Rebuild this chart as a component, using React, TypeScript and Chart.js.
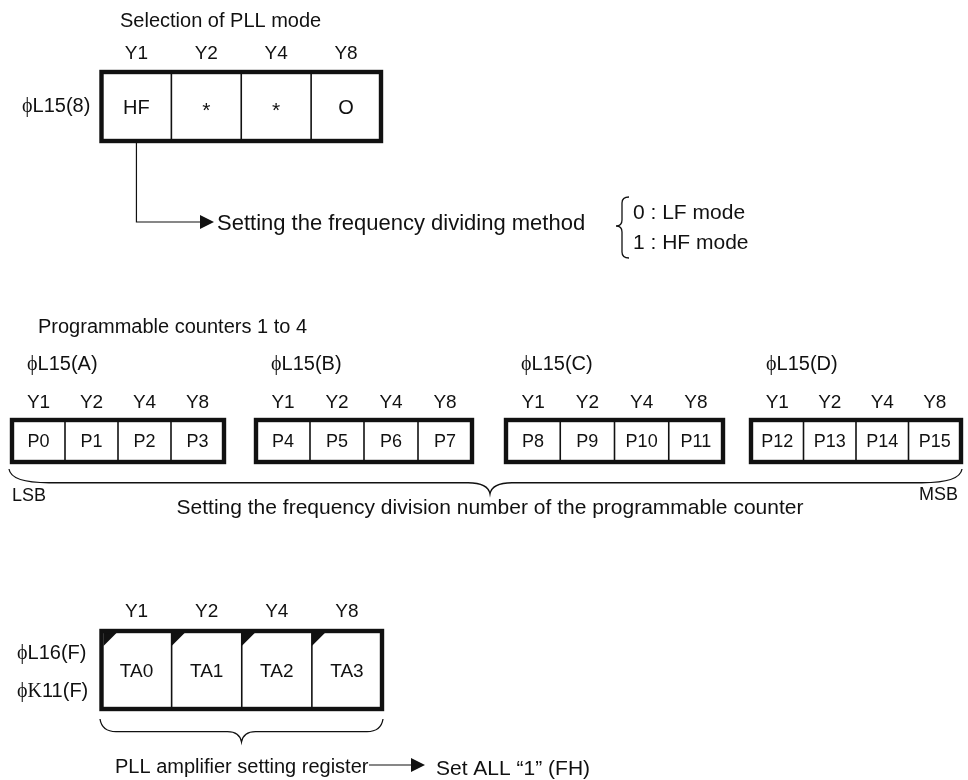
import React, { useEffect, useRef } from 'react';
import { Chart, registerables } from 'chart.js';

Chart.register(...registerables);

// ---------- content ----------
const bitLabels = ['Y1', 'Y2', 'Y4', 'Y8'];

const modeTitle = 'Selection of PLL mode';
const modeRegister = 'ϕL15(8)';
const modeCells = ['HF', '*', '*', 'O'];
const modeArrowText = 'Setting the frequency dividing method';
const modeOptions = ['0 : LF mode', '1 : HF mode'];

const counterTitle = 'Programmable counters 1 to 4';
const counterRegisters = ['ϕL15(A)', 'ϕL15(B)', 'ϕL15(C)', 'ϕL15(D)'];
const counterCells = [
  ['P0', 'P1', 'P2', 'P3'],
  ['P4', 'P5', 'P6', 'P7'],
  ['P8', 'P9', 'P10', 'P11'],
  ['P12', 'P13', 'P14', 'P15'],
];
const counterBraceText = 'Setting the frequency division number of the programmable counter';
const bitOrderLabels = ['LSB', 'MSB'];

const ampRegisters = ['ϕL16(F)', 'ϕΚ11(F)'];
const ampCells = ['TA0', 'TA1', 'TA2', 'TA3'];
const ampBraceText = 'PLL amplifier setting register';
const ampArrowText = 'Set ALL “1” (FH)';

// ---------- styling ----------
const W = 968;
const H = 780;
const INK = '#111111';
const SANS = '"Liberation Sans", Arial, Helvetica, sans-serif';
const SERIF = '"Liberation Serif", "DejaVu Serif", "Times New Roman", serif';

const isGreek = (ch: string) => {
  const c = ch.codePointAt(0) || 0;
  return c >= 0x370 && c <= 0x3ff;
};

const diagramPlugin = {
  id: 'registerDiagram',
  afterDatasetsDraw(chart: any) {
    const ctx: CanvasRenderingContext2D = chart.ctx;
    const sx = chart.scales.x;
    const sy = chart.scales.y;
    const X = (v: number) => sx.getPixelForValue(v);
    const Y = (v: number) => sy.getPixelForValue(v);

    ctx.save();
    ctx.fillStyle = INK;
    ctx.strokeStyle = INK;
    ctx.lineCap = 'butt';
    ctx.lineJoin = 'miter';

    const runsOf = (t: string) => {
      const runs: { s: string; g: boolean }[] = [];
      for (const ch of Array.from(t)) {
        const g = isGreek(ch);
        if (runs.length && runs[runs.length - 1].g === g) runs[runs.length - 1].s += ch;
        else runs.push({ s: ch, g });
      }
      return runs;
    };
    const text = (t: string, x: number, cy: number, size: number, align: 'left' | 'center' | 'right' = 'left', baseK = 0.36) => {
      const runs = runsOf(t);
      const widths = runs.map((r) => {
        ctx.font = `${size}px ${r.g ? SERIF : SANS}`;
        return ctx.measureText(r.s).width;
      });
      const total = widths.reduce((a, b) => a + b, 0);
      let px = X(x);
      if (align === 'center') px -= total / 2;
      else if (align === 'right') px -= total;
      ctx.textAlign = 'left';
      ctx.textBaseline = 'alphabetic';
      runs.forEach((r, i) => {
        ctx.font = `${size}px ${r.g ? SERIF : SANS}`;
        ctx.fillText(r.s, px, Y(cy) + size * baseK);
        px += widths[i];
      });
    };

    const line = (pts: number[][], lw: number) => {
      ctx.lineWidth = lw;
      ctx.beginPath();
      pts.forEach(([a, b], i) => (i ? ctx.lineTo(X(a), Y(b)) : ctx.moveTo(X(a), Y(b))));
      ctx.stroke();
    };

    const arrowHead = (tipX: number, y: number, len: number, half: number) => {
      ctx.beginPath();
      ctx.moveTo(X(tipX), Y(y));
      ctx.lineTo(X(tipX - len), Y(y - half));
      ctx.lineTo(X(tipX - len), Y(y + half));
      ctx.closePath();
      ctx.fill();
    };

    const register = (
      cells: string[],
      x0: number,
      x1: number,
      y0: number,
      y1: number,
      size: number,
      corners: boolean,
    ) => {
      const n = cells.length;
      const w = (x1 - x0) / n;
      for (let i = 1; i < n; i++) line([[x0 + i * w, y0], [x0 + i * w, y1]], 1.6);
      if (corners) {
        for (let i = 0; i < n; i++) {
          const lx = i === 0 ? x0 + 2 : x0 + i * w;
          const ty = y0 + 2;
          const s = 13;
          ctx.beginPath();
          ctx.moveTo(X(lx), Y(ty));
          ctx.lineTo(X(lx + s), Y(ty));
          ctx.lineTo(X(lx), Y(ty + s));
          ctx.closePath();
          ctx.fill();
        }
      }
      ctx.lineWidth = 4.4;
      ctx.strokeRect(X(x0), Y(y0), X(x1) - X(x0), Y(y1) - Y(y0));
      const cy = (y0 + y1) / 2;
      cells.forEach((c, i) => {
        const cx = x0 + (i + 0.5) * w;
        if (c === '*') text(c, cx, cy, size + 1, 'center', 0.5);
        else text(c, cx, cy, size, 'center');
      });
      return { w };
    };

    const bits = (x0: number, x1: number, cy: number, size: number) => {
      const w = (x1 - x0) / bitLabels.length;
      bitLabels.forEach((b, i) => text(b, x0 + (i + 0.5) * w, cy, size, 'center'));
    };

    const hBrace = (x1: number, x2: number, mid: number, y: number, d: number, rEnd: number, rMid: number) => {
      const ym = y + d * 0.55;
      ctx.lineWidth = 1.3;
      ctx.beginPath();
      ctx.moveTo(X(x1), Y(y));
      ctx.quadraticCurveTo(X(x1 + 2), Y(ym), X(x1 + rEnd), Y(ym));
      ctx.lineTo(X(mid - rMid), Y(ym));
      ctx.quadraticCurveTo(X(mid - 2), Y(ym), X(mid), Y(y + d));
      ctx.quadraticCurveTo(X(mid + 2), Y(ym), X(mid + rMid), Y(ym));
      ctx.lineTo(X(x2 - rEnd), Y(ym));
      ctx.quadraticCurveTo(X(x2 - 2), Y(ym), X(x2), Y(y));
      ctx.stroke();
    };

    const vBrace = (xEnd: number, xSpine: number, xTip: number, yTop: number, yMid: number, yBot: number) => {
      const r = 6;
      ctx.lineWidth = 1.3;
      ctx.beginPath();
      ctx.moveTo(X(xEnd), Y(yTop));
      ctx.quadraticCurveTo(X(xSpine), Y(yTop), X(xSpine), Y(yTop + r));
      ctx.lineTo(X(xSpine), Y(yMid - r));
      ctx.quadraticCurveTo(X(xSpine), Y(yMid), X(xTip), Y(yMid));
      ctx.quadraticCurveTo(X(xSpine), Y(yMid), X(xSpine), Y(yMid + r));
      ctx.lineTo(X(xSpine), Y(yBot - r));
      ctx.quadraticCurveTo(X(xSpine), Y(yBot), X(xEnd), Y(yBot));
      ctx.stroke();
    };

    // ===== Section 1: PLL mode =====
    text(modeTitle, 120, 20, 20, 'left');
    const m = { x0: 101.5, x1: 381, y0: 72, y1: 141 };
    bits(m.x0, m.x1, 52, 19);
    text(modeRegister, 22, 105, 20, 'left');
    const mw = register(modeCells, m.x0, m.x1, m.y0, m.y1, 20, false).w;
    const hfX = m.x0 + mw / 2;
    line([[hfX, m.y1 + 2], [hfX, 222], [202, 222]], 1.2);
    arrowHead(214, 222, 14, 7);
    text(modeArrowText, 217, 222, 22, 'left');
    vBrace(629, 622, 616, 197, 226, 258);
    text(modeOptions[0], 633, 211, 21, 'left');
    text(modeOptions[1], 633, 241, 21, 'left');

    // ===== Section 2: programmable counters =====
    text(counterTitle, 38, 326, 20, 'left');
    const cBoxes = [
      [12, 224],
      [256, 472],
      [506, 723],
      [751, 961],
    ];
    counterCells.forEach((cells, k) => {
      const [a, b] = cBoxes[k];
      text(counterRegisters[k], a + 15, 363, 20, 'left');
      bits(a, b, 401, 19);
      register(cells, a, b, 420, 462, 18, false);
    });
    hBrace(9, 962, 490, 469, 25, 40, 22);
    text(bitOrderLabels[0], 12, 495, 18, 'left');
    text(bitOrderLabels[1], 958, 494, 18, 'right');
    text(counterBraceText, 490, 506, 21, 'center');

    // ===== Section 3: PLL amplifier =====
    const a = { x0: 101.5, x1: 382, y0: 631, y1: 709 };
    bits(a.x0, a.x1, 610, 19);
    text(ampRegisters[0], 17, 652, 20, 'left');
    text(ampRegisters[1], 17, 690, 20, 'left');
    register(ampCells, a.x0, a.x1, a.y0, a.y1, 19, true);
    hBrace(100, 383, 241.5, 719, 23, 16, 14);
    text(ampBraceText, 115, 766, 20, 'left');
    line([[369, 765], [412, 765]], 1.2);
    arrowHead(425, 765, 14, 7);
    text(ampArrowText, 436, 767, 21, 'left');

    ctx.restore();
  },
};

export default function App() {
  const ref = useRef<HTMLCanvasElement>(null);

  useEffect(() => {
    if (!ref.current) return;
    const chart = new Chart(ref.current, {
      type: 'scatter',
      data: { datasets: [{ data: [], pointRadius: 0 }] },
      options: {
        animation: false,
        responsive: false,
        maintainAspectRatio: false,
        layout: { padding: 0 },
        scales: {
          x: { type: 'linear', min: 0, max: W, display: false },
          y: { type: 'linear', min: 0, max: H, reverse: true, display: false },
        },
        plugins: { legend: { display: false }, tooltip: { enabled: false } },
      },
      plugins: [diagramPlugin],
    });
    return () => chart.destroy();
  }, []);

  return (
    <div style={{ position: 'fixed', left: 0, top: 0, width: W, height: H, background: '#ffffff' }}>
      <canvas ref={ref} width={W} height={H} style={{ display: 'block', width: W, height: H }} />
    </div>
  );
}
